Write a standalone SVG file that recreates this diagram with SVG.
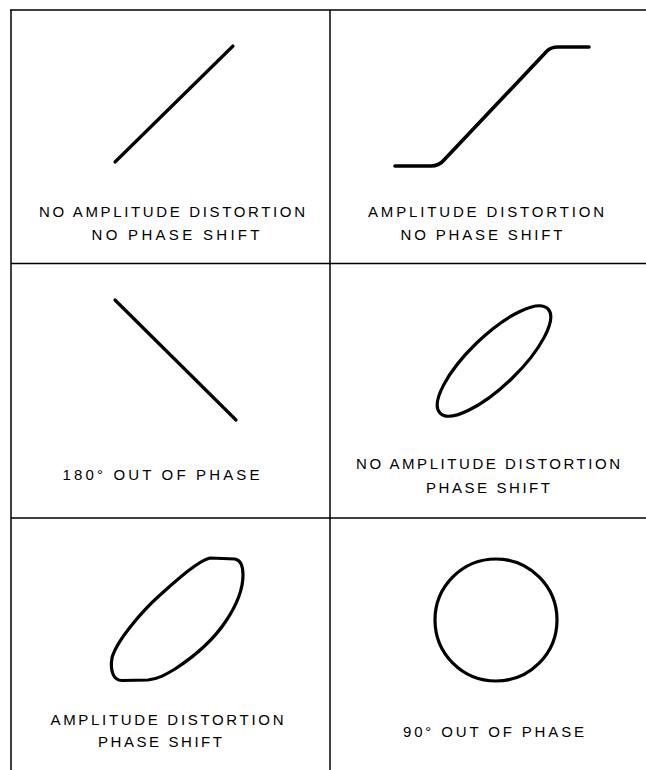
<svg xmlns="http://www.w3.org/2000/svg" width="646" height="770" viewBox="0 0 646 770">
<style>
.grid{stroke:#000;stroke-width:1.5;fill:none}
.trace{stroke:#000;stroke-width:3.2;fill:none;stroke-linecap:round;stroke-linejoin:round}
.lbl{font-family:"Liberation Sans",Arial,sans-serif;font-size:15px;fill:#000;text-anchor:middle}
</style>
<rect x="0" y="0" width="646" height="770" fill="#fff"/>
<g id="connectors">
<line class="grid" x1="10" y1="10" x2="646" y2="10"/>
<line class="grid" x1="11" y1="10" x2="11" y2="770"/>
<line class="grid" x1="330" y1="10" x2="330" y2="770"/>
<line class="grid" x1="11" y1="263.5" x2="646" y2="263.5"/>
<line class="grid" x1="11" y1="518" x2="646" y2="518"/>
</g>
<g id="cell-no-dist-no-shift">
<line class="trace" x1="115" y1="162" x2="233" y2="46"/>
<text class="lbl" x="172" y="217" textLength="266" lengthAdjust="spacing">NO AMPLITUDE DISTORTION</text>
<text class="lbl" x="175.5" y="240" textLength="168" lengthAdjust="spacing">NO PHASE SHIFT</text>
</g>
<g id="cell-dist-no-shift">
<path class="trace" style="stroke-width:3.6" d="M395,166 L431,166 Q439,166 444,160 L547,51 Q551,47 558,47 L589,47"/>
<text class="lbl" x="486" y="217" textLength="236" lengthAdjust="spacing">AMPLITUDE DISTORTION</text>
<text class="lbl" x="481.5" y="240" textLength="162" lengthAdjust="spacing">NO PHASE SHIFT</text>
</g>
<g id="cell-180">
<line class="trace" x1="115" y1="300" x2="236" y2="420"/>
<text class="lbl" x="161" y="480" textLength="197" lengthAdjust="spacing">180° OUT OF PHASE</text>
</g>
<g id="cell-no-dist-shift">
<ellipse class="trace" cx="494" cy="361" rx="75" ry="25" transform="rotate(-44 494 361)"/>
<text class="lbl" x="488" y="469" textLength="264" lengthAdjust="spacing">NO AMPLITUDE DISTORTION</text>
<text class="lbl" x="488" y="493" textLength="124" lengthAdjust="spacing">PHASE SHIFT</text>
</g>
<g id="cell-dist-shift">
<path class="trace" d="M210,558 L235,559 C240,560 243,566 243,575 C243,590 236,606 226,621 C214,639 195,656 175,669 C165,675 158,679 148,680 L122,680.5 C113,680.5 110,670 112,658 C116,642 140,613 160,595 C178,579 198,561 210,558 Z"/>
<text class="lbl" x="167" y="725" textLength="233" lengthAdjust="spacing">AMPLITUDE DISTORTION</text>
<text class="lbl" x="160" y="747" textLength="124" lengthAdjust="spacing">PHASE SHIFT</text>
</g>
<g id="cell-90">
<circle class="trace" cx="496" cy="620" r="61"/>
<text class="lbl" x="493.5" y="736.5" textLength="181" lengthAdjust="spacing">90° OUT OF PHASE</text>
</g>
</svg>
